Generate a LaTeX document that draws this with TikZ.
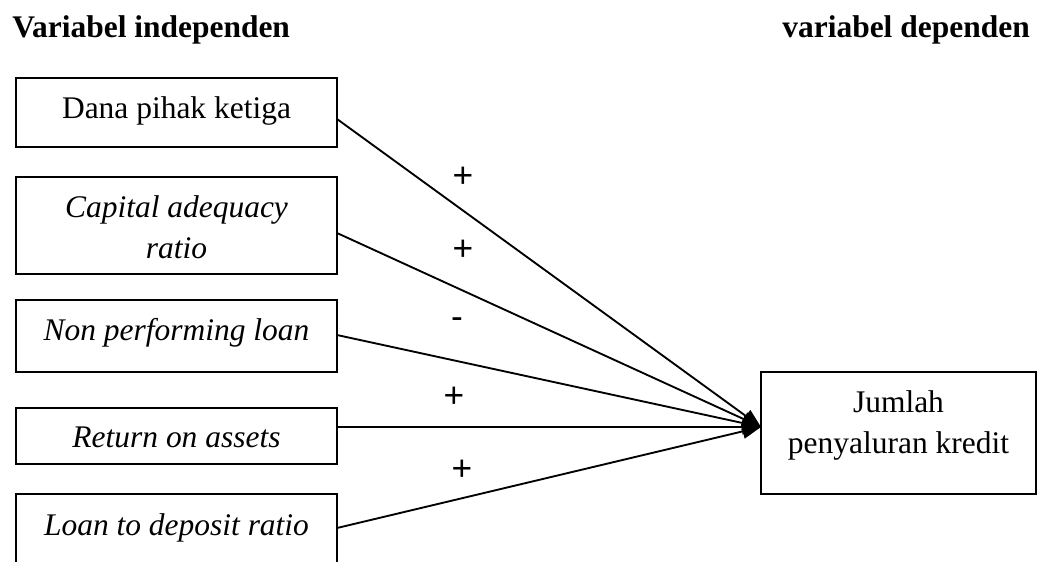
\documentclass[tikz,border=0pt]{standalone}
\usepackage{fontspec}
\setmainfont{Liberation Serif}
\newfontfamily\signfont{Liberation Sans}
\usetikzlibrary{arrows.meta,calc}
\begin{document}
\begin{tikzpicture}[x=0.75pt,y=-0.75pt,
  box/.style={draw,line width=1.4pt,rectangle,inner sep=0pt,outer sep=0pt},
  lbl/.style={anchor=base,inner sep=0pt,font=\fontsize{23.6pt}{30.75pt}\selectfont,align=center},
  head/.style={anchor=base,inner sep=0pt,font=\fontsize{23.6pt}{30.75pt}\selectfont\bfseries},
  sign/.style={inner sep=0pt,font=\fontsize{26.5pt}{30pt}\signfont},
  conn/.style={line width=1.4pt,-{Triangle[length=14pt,width=11pt]}}]
\useasboundingbox (0,0) rectangle (1037,561);
\clip (0,0) rectangle (1037,561);
% headings
\node[head,anchor=base west] (h1) at (12,37) {Variabel independen};
\node[head,anchor=base east] (h2) at (1030,37) {variabel dependen};
% left boxes
\node[box,minimum width=321*0.75pt,minimum height=69*0.75pt] (b1) at (176.5,112.5) {};
\node[box,minimum width=321*0.75pt,minimum height=97*0.75pt] (b2) at (176.5,225.5) {};
\node[box,minimum width=321*0.75pt,minimum height=72*0.75pt] (b3) at (176.5,336) {};
\node[box,minimum width=321*0.75pt,minimum height=56*0.75pt] (b4) at (176.5,436) {};
\node[box,minimum width=321*0.75pt,minimum height=106*0.75pt] (b5) at (176.5,547) {};
\node[lbl] (t1) at (176.5,118) {Dana pihak ketiga};
\node[lbl] (t2) at (176.5,217) {\itshape Capital adequacy};
\node[lbl] (t2b) at (176.5,258) {\itshape ratio};
\node[lbl] (t3) at (176.5,340) {\itshape Non performing loan};
\node[lbl] (t4) at (176.5,447) {\itshape Return on assets};
\node[lbl] (t5) at (176.5,535) {\itshape Loan to deposit ratio};
% right box
\node[box,minimum width=275*0.75pt,minimum height=122*0.75pt] (jp) at (898.5,433) {};
\node[lbl] (tj1) at (898.5,412) {Jumlah};
\node[lbl] (tj2) at (898.5,453) {penyaluran kredit};
% connector end points
\coordinate (s1) at (b1.east |- 0,119);
\coordinate (s2) at (b2.east |- 0,233);
\coordinate (s3) at (b3.east |- 0,335);
\coordinate (s4) at (b4.east |- 0,427);
\coordinate (s5) at (b5.east |- 0,528);
\coordinate (tg) at (jp.west |- 0,427);
\draw[conn] (s1) -- (tg);
\draw[conn] (s2) -- (tg);
\draw[conn] (s3) -- (tg);
\draw[conn] (s4) -- (tg);
\draw[conn] (s5) -- (tg);
% signs
\node[sign] (p1) at (463,177) {+};
\node[sign] (p2) at (463,250) {+};
\node[sign] (p3) at (457,323) {-};
\node[sign] (p4) at (454,397) {+};
\node[sign] (p5) at (462,470) {+};
\end{tikzpicture}
\end{document}
